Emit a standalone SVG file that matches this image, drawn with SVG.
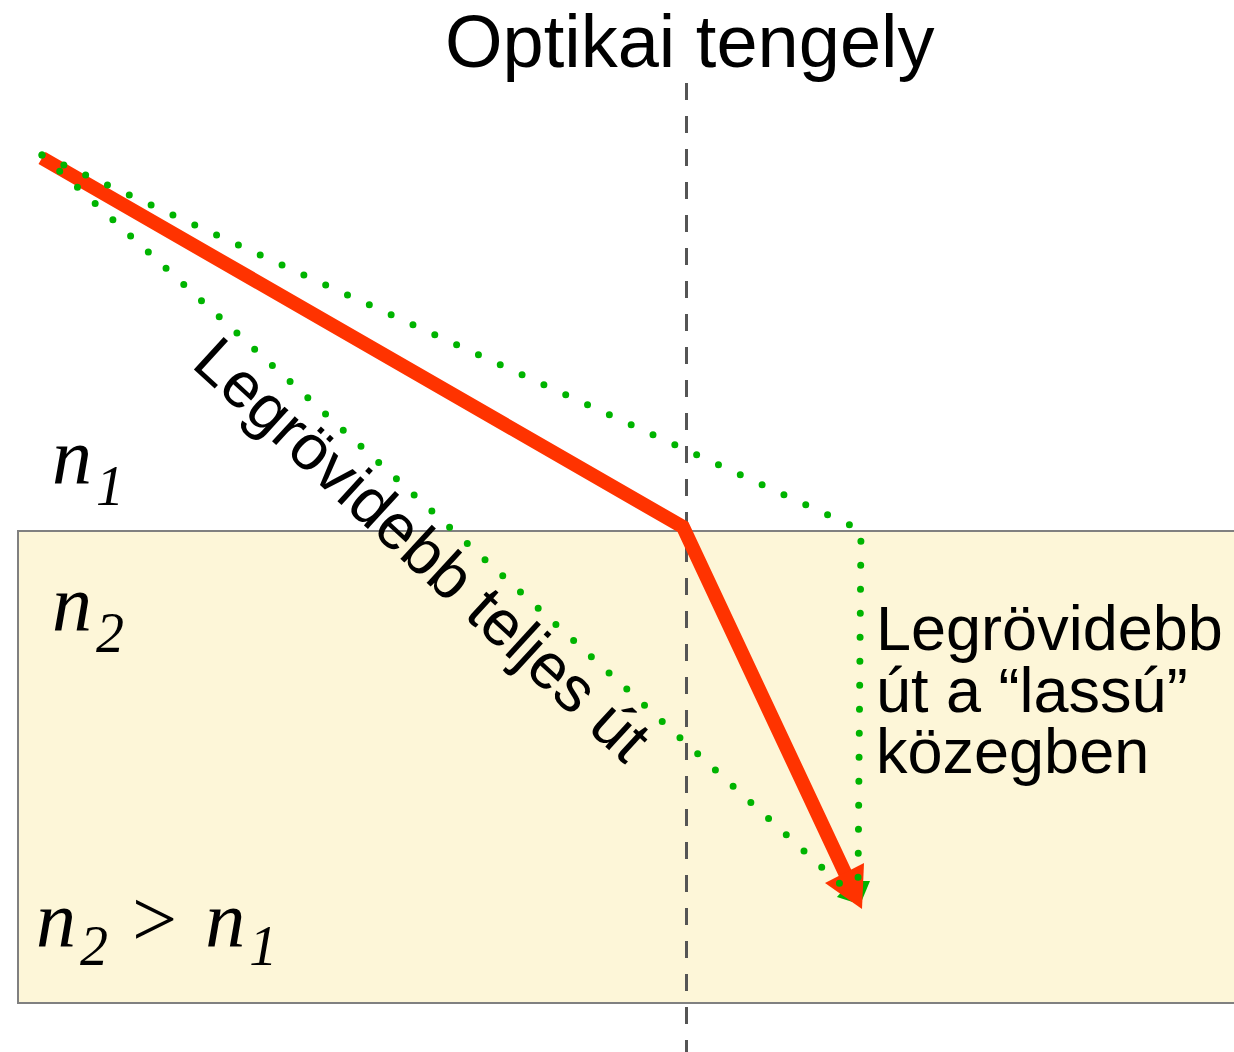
<svg xmlns="http://www.w3.org/2000/svg" width="1234" height="1052" viewBox="0 0 1234 1052">
<style>
.sans{font-family:"Liberation Sans",Arial,sans-serif;fill:#000}
.ser{font-family:"Liberation Serif","Times New Roman",serif;fill:#000;font-style:italic}
.dot{fill:none;stroke:#00b400;stroke-width:7;stroke-linecap:round;stroke-dasharray:0 24}
</style>
<rect width="1234" height="1052" fill="#fff"/>
<g id="medium2">
<rect x="18" y="531" width="1230" height="472" fill="#fdf6d8" stroke="#808080" stroke-width="2"/>
</g>
<g id="connectors">
<line id="axis" x1="686.5" y1="83" x2="686.5" y2="1052" stroke="#555" stroke-width="3" stroke-dasharray="17 16"/>
<polygon points="862,905 836.9,896.9 851.7,880.7" fill="#00b400"/>
<polygon points="860,905 849,881 870,881" fill="#00b400"/>
<polyline points="42,158 683,527 846,875" fill="none" stroke="#ff3300" stroke-width="14" stroke-linejoin="miter"/>
<polygon points="862,909 825,883 864,863" fill="#ff3300"/>
<path class="dot" d="M42,155 L850,893"/>
<path class="dot" d="M42,155 L861,530 L858,884"/>
</g>
<g id="title"><text class="sans" x="445" y="67" font-size="74">Optikai tengely</text></g>
<g id="label-total"><text class="sans" font-size="64" transform="translate(190,366) rotate(42.5)">Legrövidebb teljes út</text></g>
<g id="label-slow">
<text class="sans" font-size="63" x="876"><tspan x="876" y="650">Legrövidebb</tspan><tspan x="876" y="712">út a “lassú”</tspan><tspan x="876" y="773">közegben</tspan></text>
</g>
<g id="n1"><text class="ser" font-size="80" x="52" y="483">n<tspan font-size="56" dx="4" dy="22">1</tspan></text></g>
<g id="n2"><text class="ser" font-size="80" x="52" y="630">n<tspan font-size="56" dx="4" dy="22">2</tspan></text></g>
<g id="relation"><text class="ser" font-size="80" x="36" y="946">n<tspan font-size="56" dx="4" dy="19">2</tspan><tspan dx="24" dy="-19" font-style="normal">&gt;</tspan><tspan dx="28">n</tspan><tspan font-size="56" dx="4" dy="19">1</tspan></text></g>
</svg>
